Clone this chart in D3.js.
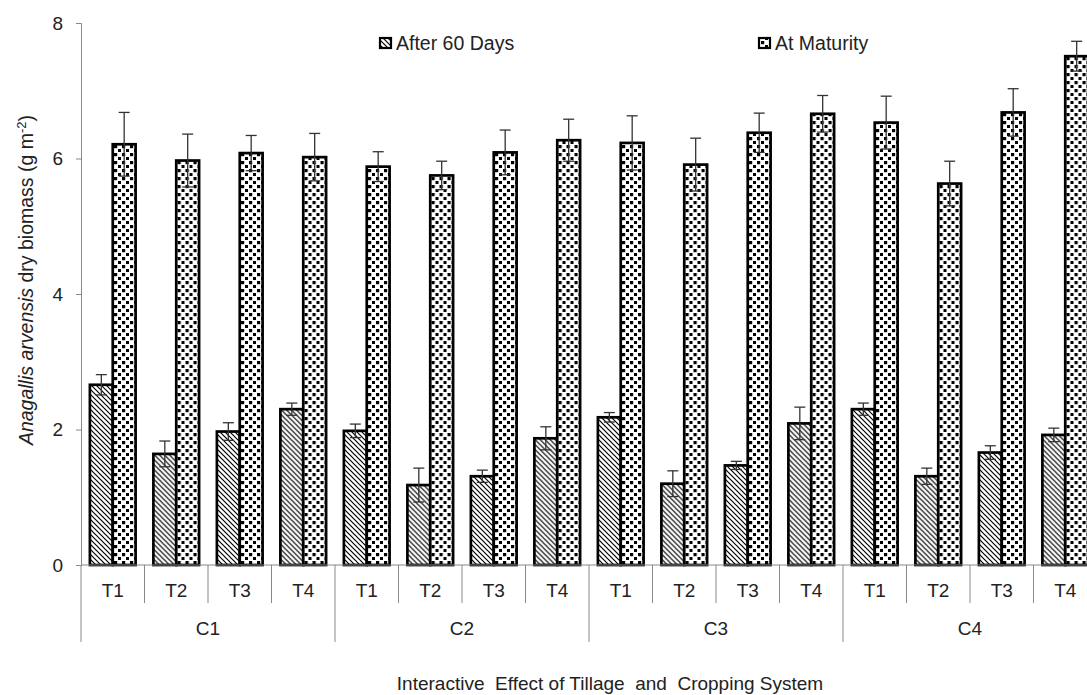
<!DOCTYPE html>
<html>
<head>
<meta charset="utf-8">
<script src="https://cdn.jsdelivr.net/npm/d3@7"></script>
<style>
  body { margin: 0; background: #fff; }
  svg { display: block; font-family: "Liberation Sans", Arial, sans-serif; }
</style>
</head>
<body>
<div id="graph"></div>
<script>
// DATA
const systems = ["C1", "C2", "C3", "C4"]
const tillages = ["T1", "T2", "T3", "T4"]
const seriesNames = ["After 60 Days", "At Maturity"]
// values listed C1T1..C1T4, C2T1.. etc
const after60 = [2.66, 1.64, 1.97, 2.30, 1.98, 1.18, 1.31, 1.87, 2.18, 1.20, 1.47, 2.09, 2.30, 1.31, 1.66, 1.92]
const after60Err = [0.15, 0.19, 0.13, 0.09, 0.10, 0.25, 0.09, 0.17, 0.07, 0.19, 0.06, 0.24, 0.09, 0.12, 0.10, 0.10]
const maturity = [6.21, 5.97, 6.08, 6.02, 5.88, 5.75, 6.09, 6.27, 6.23, 5.91, 6.38, 6.66, 6.53, 5.63, 6.68, 7.51]
const maturityErr = [0.47, 0.39, 0.26, 0.35, 0.22, 0.21, 0.33, 0.31, 0.40, 0.39, 0.29, 0.27, 0.39, 0.33, 0.35, 0.22]
const yTicks = [0, 2, 4, 6, 8]

// Build rows for drawing
const rows = []
systems.forEach((c, ci) => {
  tillages.forEach((t, ti) => {
    const i = ci * 4 + ti
    rows.push({ key: c + t, c: c, t: t,
      vals: [ { s: seriesNames[0], v: after60[i], e: after60Err[i] },
              { s: seriesNames[1], v: maturity[i], e: maturityErr[i] } ] })
  })
})

const width = 1087, height = 695
const svg = d3.select("#graph").append("svg").attr("width", width).attr("height", height)

// Patterns
const defs = svg.append("defs")
const hatch = defs.append("pattern").attr("id", "hatch").attr("patternUnits", "userSpaceOnUse")
  .attr("width", 5).attr("height", 5)
hatch.append("rect").attr("width", 5).attr("height", 5).attr("fill", "#fff")
hatch.append("path").attr("d", "M-1,-1 L6,6 M-1,4 L1,6 M4,-1 L6,1")
  .attr("stroke", "#000").attr("stroke-width", 1.2)

const dots = defs.append("pattern").attr("id", "dots").attr("patternUnits", "userSpaceOnUse")
  .attr("width", 8).attr("height", 8)
dots.append("rect").attr("width", 8).attr("height", 8).attr("fill", "#fff")
;[[1, 1], [5, 5]].forEach(p => {
  dots.append("rect").attr("x", p[0]).attr("y", p[1]).attr("width", 3.2).attr("height", 3.2).attr("fill", "#000")
})
const fills = { "After 60 Days": "url(#hatch)", "At Maturity": "url(#dots)" }

// Scales
const plotLeft = 81, plotRight = 1097, plotTop = 23, plotBottom = 565
const x = d3.scaleBand().domain(rows.map(d => d.key)).range([plotLeft, plotRight])
const bw = x.bandwidth()
const xs = d3.scaleBand().domain(seriesNames).range([bw * 0.14, bw * 0.86])
const y = d3.scaleLinear().domain([0, 8]).range([plotBottom, plotTop])

const axisColor = "#888"
const textColor = "#222"
const fontSize = "19px"

// Y axis
const yAxis = svg.append("g").attr("transform", `translate(${plotLeft},0)`)
  .call(d3.axisLeft(y).tickValues(yTicks).tickSize(5).tickPadding(13).tickFormat(d3.format("d")))
yAxis.select(".domain").attr("stroke", axisColor)
yAxis.selectAll(".tick line").attr("stroke", axisColor)
yAxis.selectAll(".tick text").attr("fill", textColor).style("font-size", fontSize)
  .style("font-family", "Liberation Sans, Arial, sans-serif")

// Bars
const groups = svg.append("g").selectAll("g").data(rows).join("g")
  .attr("transform", d => `translate(${x(d.key)},0)`)

groups.selectAll("rect").data(d => d.vals).join("rect")
  .attr("x", d => xs(d.s))
  .attr("y", d => y(d.v))
  .attr("width", xs.bandwidth())
  .attr("height", d => y(0) - y(d.v))
  .attr("fill", d => fills[d.s])
  .attr("stroke", "#000")
  .attr("stroke-width", 2.7)

// Error bars
const err = groups.selectAll(".err").data(d => d.vals).join("g").attr("class", "err")
err.append("line")
  .attr("x1", d => xs(d.s) + xs.bandwidth() / 2).attr("x2", d => xs(d.s) + xs.bandwidth() / 2)
  .attr("y1", d => y(d.v - d.e)).attr("y2", d => y(d.v + d.e))
  .attr("stroke", "#333").attr("stroke-width", 1.3)
err.selectAll(".cap").data(d => [d.v - d.e, d.v + d.e].map(val => ({ s: d.s, val: val }))).join("line")
  .attr("class", "cap")
  .attr("x1", d => xs(d.s) + xs.bandwidth() / 2 - 5.5).attr("x2", d => xs(d.s) + xs.bandwidth() / 2 + 5.5)
  .attr("y1", d => y(d.val)).attr("y2", d => y(d.val))
  .attr("stroke", "#333").attr("stroke-width", 1.3)

// X axis baseline
svg.append("line").attr("x1", plotLeft).attr("x2", plotRight).attr("y1", plotBottom).attr("y2", plotBottom)
  .attr("stroke", axisColor).attr("stroke-width", 1)

// Tillage separators and labels
rows.forEach((d, i) => {
  if (i % 4 != 0) {
    svg.append("line").attr("x1", x(d.key)).attr("x2", x(d.key))
      .attr("y1", plotBottom).attr("y2", 603).attr("stroke", axisColor)
  }
  svg.append("text").attr("x", x(d.key) + bw / 2).attr("y", 597)
    .attr("text-anchor", "middle").attr("fill", textColor).style("font-size", fontSize).text(d.t)
})

// Cropping system separators and labels
systems.forEach((c, ci) => {
  const x0 = x(c + tillages[0])
  svg.append("line").attr("x1", x0).attr("x2", x0).attr("y1", plotBottom).attr("y2", 642).attr("stroke", axisColor)
  svg.append("text").attr("x", x0 + bw * 2).attr("y", 635)
    .attr("text-anchor", "middle").attr("fill", textColor).style("font-size", fontSize).text(c)
})

// Axis titles
svg.append("text").attr("x", 610).attr("y", 690).attr("text-anchor", "middle")
  .attr("fill", textColor).style("font-size", "19px").style("white-space", "pre")
  .text("Interactive  Effect of Tillage  and  Cropping System")

const yt = svg.append("text").attr("transform", "translate(33,280) rotate(-90)")
  .attr("text-anchor", "middle").attr("fill", textColor).style("font-size", "19.5px")
yt.append("tspan").style("font-style", "italic").text("Anagallis arvensis")
yt.append("tspan").text(" dry biomass (g m")
yt.append("tspan").attr("dy", -7).style("font-size", "13px").text("-2")
yt.append("tspan").attr("dy", 7).text(")")

// Legend
const legendX = [380, 759]
seriesNames.forEach((s, i) => {
  svg.append("rect").attr("x", legendX[i]).attr("y", 38).attr("width", 11).attr("height", 10)
    .attr("fill", fills[s]).attr("stroke", "#000").attr("stroke-width", 2.2)
  svg.append("text").attr("x", legendX[i] + 16).attr("y", 50)
    .attr("fill", textColor).style("font-size", "19.5px").text(s)
})
</script>
</body>
</html>
